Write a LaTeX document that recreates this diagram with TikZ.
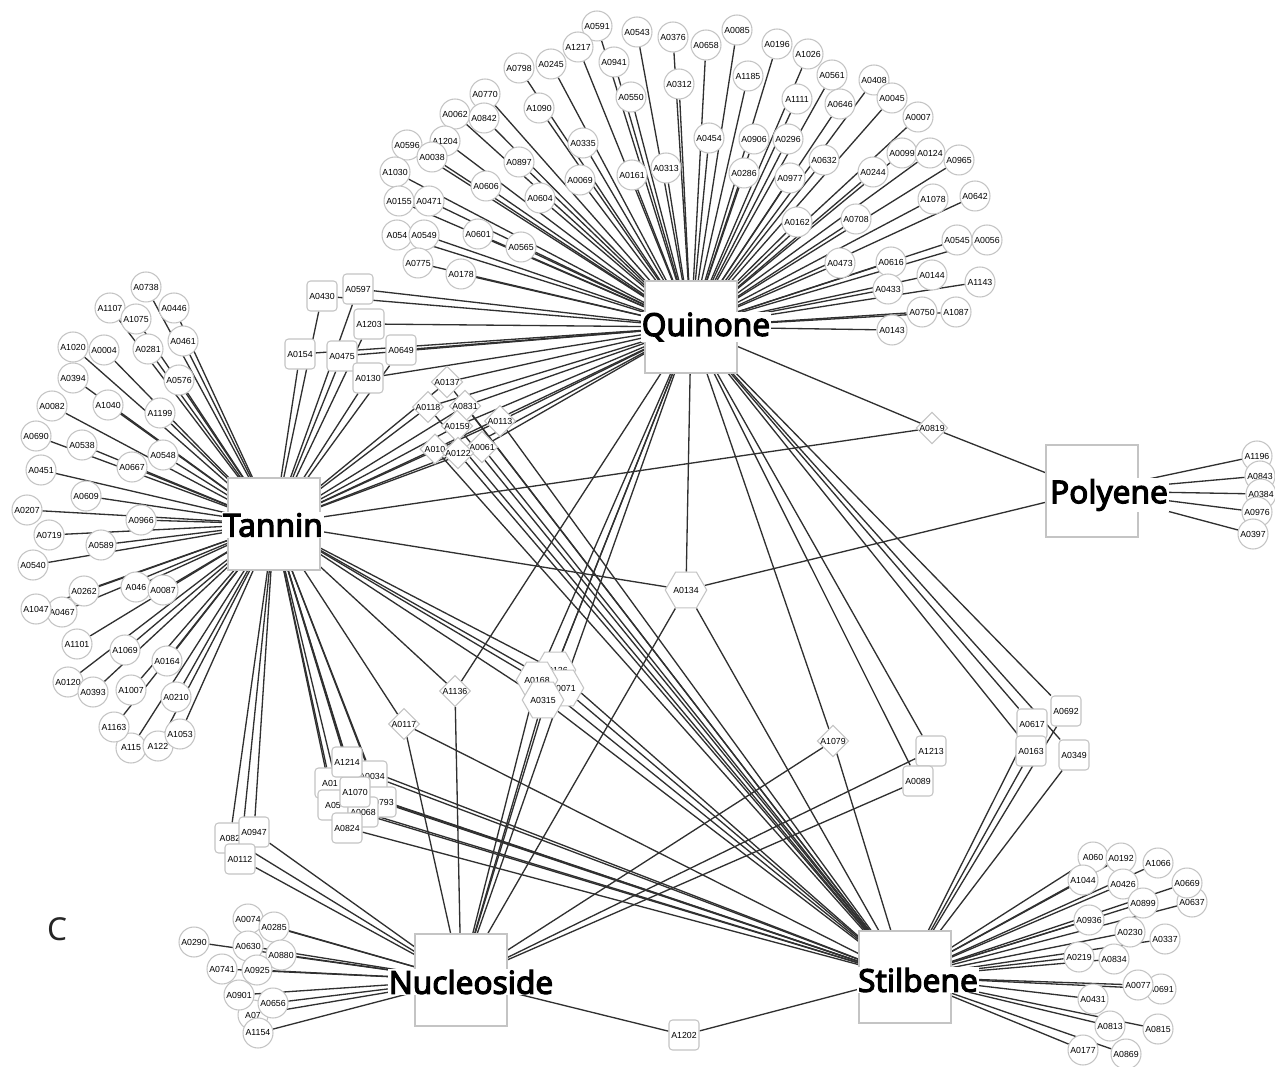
\documentclass[tikz,border=0pt]{standalone}
\usepackage{fontspec}
\setmainfont{Liberation Sans}
\newfontfamily\hubfont{Noto Sans}[FakeBold=3.5]
\newfontfamily\cfont{Noto Sans}
\usetikzlibrary{shapes.geometric}
\pgfdeclarelayer{bg}
\pgfsetlayers{bg,main}
\definecolor{edgecol}{HTML}{303030}
\definecolor{bordcol}{HTML}{C4C4C4}
\tikzset{
 every node/.style={font=\fontsize{5}{6}\selectfont, text=black},
 leaf/.style={circle, draw=bordcol, fill=white, line width=0.6pt, minimum size=0.6cm, inner sep=0pt},
 rbox/.style={rectangle, rounded corners=0.07cm, draw=bordcol, fill=white, line width=0.6pt, minimum size=0.6cm, inner sep=0pt},
 dia/.style={diamond, draw=bordcol, fill=white, line width=0.6pt, minimum size=0.6cm, inner sep=0pt},
 hexa/.style={regular polygon, regular polygon sides=6, draw=bordcol, fill=white, line width=0.6pt, minimum size=0.64cm, inner sep=0pt},
 hub/.style={rectangle, draw=bordcol, fill=white, line width=0.7pt, minimum size=1.84cm, inner sep=0pt},
 hublabel/.style={font=\hubfont\fontsize{18}{20}\selectfont, text=black, fill=white, inner sep=0.5pt},
 edge/.style={draw=edgecol, line width=0.75pt},
}
\def\Qleaves{A0591/597/26, A0543/637/32, A0376/673/37, A1217/578/47, A0941/614/62, A0798/519/68, A0245/551/64, A0312/679/84, A0550/631/97, A0770/485/94, A1090/539/108, A0062/455/114, A0842/484/118, A0335/583/143, A0596/407/145, A1204/445/141, A0038/432/157, A0897/519/162, A0069/580/180, A0161/632/175, A0313/666/168, A1030/395/172, A0606/486/186, A0604/540/198, A0155/399/201, A0471/429/201, A0601/478/234, A0565/521/247, A0549/424/235, A0775/418/263, A0178/461/274, A0658/706/45, A0085/737/30, A0196/777/44, A1026/808/54, A1185/748/76, A0561/832/75, A0408/874/80, A1111/797/99, A0646/840/104, A0045/892/98, A0007/918/117, A0454/709/138, A0906/754/139, A0296/788/139, A0632/824/160, A0099/902/153, A0124/930/153, A0965/959/160, A0286/744/173, A0977/790/178, A0244/873/172, A1078/933/199, A0642/975/196, A0162/797/222, A0708/856/219, A0545/957/240, A0056/987/240, A0473/840/263, A0616/891/262, A0144/932/275, A1143/980/282, A0433/888/289, A0750/922/312, A1087/956/312, A0143/892/330}
\def\Tleaves{A0738/146/287, A1107/110/308, A0446/174/308, A1075/136/319, A0461/183/341, A1020/73/347, A0004/104/350, A0281/148/349, A0576/179/380, A0394/73/378, A1040/108/405, A0082/52/406, A1199/160/413, A0690/36/436, A0538/82/445, A0548/163/455, A0667/132/467, A0451/41/470, A0609/86/496, A0207/27/510, A0966/141/520, A0719/49/535, A0589/101/545, A0540/33/565, A0262/84/591, A0087/163/590, A0467/62/612, A1047/36/609, A1101/77/644, A1069/125/650, A0164/167/661, A0120/68/682, A0393/93/692, A1007/131/690, A0210/176/697, A1163/114/727, A1053/180/734}
\def\Nleaves{A0290/194/942, A0074/248/919, A0285/274/927, A0630/248/946, A0880/281/955, A0741/222/969, A0925/257/970, A0901/239/995, A0656/273/1003, A1154/258/1033}
\def\Pleaves{A1196/1257/456, A0843/1260/476, A0384/1261/494, A0976/1257/512, A0397/1253/534}
\def\Sleaves{A0192/1121/858, A1066/1158/863, A1044/1083/880, A0426/1123/884, A0637/1192/902, A0669/1187/883, A0899/1143/903, A0936/1089/920, A0230/1130/932, A0337/1165/939, A0219/1079/957, A0834/1114/959, A0691/1161/989, A0077/1138/985, A0431/1093/999, A0813/1110/1026, A0815/1158/1029, A0177/1083/1050, A0869/1126/1054}
\def\TQ{A0430,A0597,A1203,A0154,A0475,A0649,A0130}
\def\Dia{A0137,A0118,A0831,A0159,A0113,A0061,A010x,A0122}
\def\Hex{A0126,A0071,A0168,A0315}
\def\TS{A0034,A0793,A01x,A05x,A0068,A1070,A1214,A0824}
\def\TN{A082x,A0947,A0112}
\def\QS{A0617,A0163,A0692,A0349}
\begin{document}
\begin{tikzpicture}[x=0.02cm, y=-0.02cm]
\useasboundingbox (0,0) rectangle (1275,1067);
\begin{pgfonlayer}{bg}
\fill[white] (0,0) rectangle (1275,1067);
\end{pgfonlayer}
% hubs
\node[hub] (Q) at (691,327) {};
\node[hub] (T) at (274,524) {};
\node[hub] (P) at (1092,491) {};
\node[hub] (N) at (461,980) {};
\node[hub] (S) at (905,977) {};
% quinone leaves
\node[leaf] (A054x) at (397,235) {A054};
\foreach \n/\x/\y in \Qleaves { \node[leaf] (\n) at (\x,\y) {\n}; }
% tannin leaves
\node[leaf] (A046x) at (136,587) {A046};
\node[leaf] (A115x) at (131,748) {A115};
\node[leaf] (A122x) at (158,746) {A122};
\foreach \n/\x/\y in \Tleaves { \node[leaf] (\n) at (\x,\y) {\n}; }
% nucleoside leaves
\node[leaf] (A07x) at (253,1015) {A07};
\foreach \n/\x/\y in \Nleaves { \node[leaf] (\n) at (\x,\y) {\n}; }
% polyene leaves
\foreach \n/\x/\y in \Pleaves { \node[leaf] (\n) at (\x,\y) {\n}; }
% stilbene leaves
\node[leaf] (A060x) at (1093,857) {A060};
\foreach \n/\x/\y in \Sleaves { \node[leaf] (\n) at (\x,\y) {\n}; }
% tannin-quinone boxes
\foreach \n/\x/\y in {A0430/322/296, A0597/358/289, A1203/369/324, A0154/300/354, A0475/342/356, A0649/401/350, A0130/368/378} { \node[rbox] (\n) at (\x,\y) {\n}; }
% diamonds tannin-quinone-stilbene
\foreach \n/\x/\y in {A0137/447/382, A0118/428/407, A0831/465/406, A0159/457/426, A0113/500/421, A0061/482/447} { \node[dia] (\n) at (\x,\y) {\n}; }
\node[dia] (A010x) at (435,449) {A010};
\node[dia] (A0122) at (458,453) {A0122};
% other middle nodes
\node[dia] (A0819) at (932,428) {A0819};
\node[hexa] (A0134) at (686,590) {A0134};
\foreach \n/\x/\y in {A0126/555/670, A0071/563/688, A0168/537/680, A0315/543/700} { \node[hexa] (\n) at (\x,\y) {\n}; }
\node[dia] (A1136) at (455,691) {A1136};
\node[dia] (A0117) at (404,724) {A0117};
\node[dia] (A1079) at (833,741) {A1079};
\node[rbox] (A1213) at (931,751) {A1213};
\node[rbox] (A0089) at (918,781) {A0089};
\node[rbox] (A0692) at (1066,711) {A0692};
\node[rbox] (A0617) at (1032,724) {A0617};
\node[rbox] (A0163) at (1031,751) {A0163};
\node[rbox] (A0349) at (1074,755) {A0349};
% tannin-stilbene boxes
\node[rbox] (A0034) at (372,776) {A0034};
\node[rbox] (A0793) at (381,802) {A0793};
\node[rbox] (A01x) at (330,783) {A01};
\node[rbox] (A05x) at (333,805) {A05};
\node[rbox] (A0068) at (363,812) {A0068};
\node[rbox] (A1070) at (355,792) {A1070};
\node[rbox] (A1214) at (347,762) {A1214};
\node[rbox] (A0824) at (347,828) {A0824};
% tannin-nucleoside boxes
\node[rbox] (A082x) at (230,838) {A082};
\node[rbox] (A0947) at (254,832) {A0947};
\node[rbox] (A0112) at (240,859) {A0112};
\node[rbox] (A1202) at (684,1035) {A1202};
% edges
\begin{pgfonlayer}{bg}
\foreach \n/\x/\y in \Qleaves { \draw[edge] (\n) -- (Q); }
\foreach \n/\x/\y in \Tleaves { \draw[edge] (\n) -- (T); }
\foreach \n/\x/\y in \Nleaves { \draw[edge] (\n) -- (N); }
\foreach \n/\x/\y in \Pleaves { \draw[edge] (\n) -- (P); }
\foreach \n/\x/\y in \Sleaves { \draw[edge] (\n) -- (S); }
\draw[edge] (A054x) -- (Q);
\foreach \n in {A046x,A115x,A122x} { \draw[edge] (\n) -- (T); }
\draw[edge] (A07x) -- (N);
\draw[edge] (A060x) -- (S);
\foreach \n in \TQ { \draw[edge] (\n) -- (Q); \draw[edge] (\n) -- (T); }
\foreach \n in \Dia { \draw[edge] (\n) -- (Q); \draw[edge] (\n) -- (T); \draw[edge] (\n) -- (S); }
\foreach \n in \Hex { \draw[edge] (\n) -- (Q); \draw[edge] (\n) -- (T); \draw[edge] (\n) -- (N); \draw[edge] (\n) -- (S); }
\foreach \n in \TS { \draw[edge] (\n) -- (T); \draw[edge] (\n) -- (S); }
\foreach \n in \TN { \draw[edge] (\n) -- (T); \draw[edge] (\n) -- (N); }
\foreach \n in \QS { \draw[edge] (\n) -- (Q); \draw[edge] (\n) -- (S); }
\foreach \h in {Q,T,P} { \draw[edge] (A0819) -- (\h); }
\foreach \h in {Q,T,P,N,S} { \draw[edge] (A0134) -- (\h); }
\foreach \h in {Q,T,N} { \draw[edge] (A1136) -- (\h); }
\foreach \h in {T,N,S} { \draw[edge] (A0117) -- (\h); }
\foreach \h in {Q,N,S} { \draw[edge] (A1079) -- (\h); }
\foreach \h in {Q,N} { \draw[edge] (A1213) -- (\h); \draw[edge] (A0089) -- (\h); }
\foreach \h in {N,S} { \draw[edge] (A1202) -- (\h); }
\end{pgfonlayer}
% hub labels
\node[hublabel] (Qlab) at (706,327) {Quinone};
\node[hublabel] (Tlab) at (273,525) {Tannin};
\node[hublabel] (Plab) at (1109,495) {Polyene};
\node[hublabel] (Nlab) at (471,982) {Nucleoside};
\node[hublabel] (Slab) at (918,980) {Stilbene};
\node[font=\cfont\fontsize{18}{20}\selectfont, text=black!85] (clab) at (57,929) {C};
\end{tikzpicture}
\end{document}
